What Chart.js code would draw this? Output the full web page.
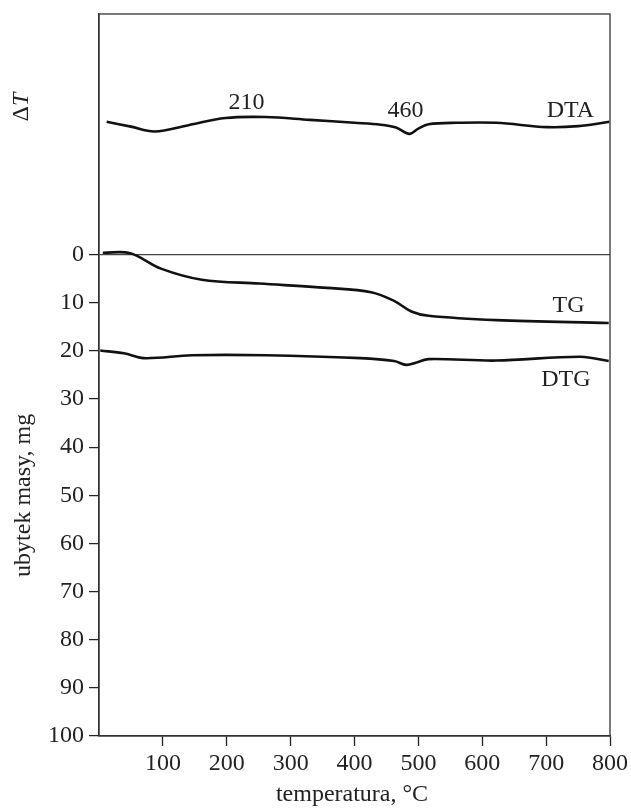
<!DOCTYPE html>
<html>
<head>
<meta charset="utf-8">
<script src="https://cdn.jsdelivr.net/npm/chart.js@4.4.0/dist/chart.umd.min.js"></script>
<style>
  html, body { margin: 0; padding: 0; background: #fff; }
  #wrap { width: 631px; height: 810px; }
</style>
</head>
<body>
<div id="wrap"><canvas id="thermoChart" width="631" height="810"></canvas></div>
<script>
// temperature (°C) and readings
const dtaTemp = [12, 50, 87, 140, 198, 261, 330, 400, 441, 465, 486, 500, 516, 560, 622, 701, 750, 799];
const dtaVal  = [-27.6, -26.6, -25.6, -26.9, -28.4, -28.6, -28.0, -27.4, -27.0, -26.4, -25.1, -26.2, -27.1, -27.4, -27.4, -26.5, -26.7, -27.6];

const tgTemp = [6, 49, 97, 161, 251, 357, 426, 462, 489, 516, 622, 798];
const tgVal  = [-0.4, -0.3, 2.9, 5.2, 6.0, 6.9, 7.8, 9.6, 11.8, 12.7, 13.6, 14.2];

const dtgTemp = [2, 39, 70, 145, 261, 409, 462, 481, 497, 516, 622, 754, 798];
const dtgVal  = [19.9, 20.5, 21.5, 20.9, 20.9, 21.5, 22.1, 22.9, 22.4, 21.7, 22.0, 21.2, 22.1];

const xTicks = [100, 200, 300, 400, 500, 600, 700, 800];
const yTicks = [0, 10, 20, 30, 40, 50, 60, 70, 80, 90, 100];

// curve labels: text, temperature, value
const curveLabels = [
    ['210', 231, -31.6],
    ['460', 480, -30.0],
    ['DTA', 738, -30.0],
    ['TG', 735, 10.6],
    ['DTG', 731, 26.0]
];

const serif = '"Liberation Serif", "DejaVu Serif", serif';
const fontSize = 24;

function toPoints(xs, ys) {
    return xs.map((x, i) => ({ x: x, y: ys[i] }));
}

const lineStyle = {
    borderColor: '#111',
    borderWidth: 2.6,
    pointRadius: 0,
    tension: 0.35,
    fill: false
};

const textPlugin = {
    id: 'textPlugin',
    afterDraw(chart) {
        const ctx = chart.ctx;
        const area = chart.chartArea;
        const xs = chart.scales.x;
        const ys = chart.scales.y;
        ctx.save();

        // frame
        ctx.strokeStyle = '#333';
        ctx.lineWidth = 1.3;
        ctx.strokeRect(area.left, area.top, area.right - area.left, area.bottom - area.top);

        ctx.fillStyle = '#222';
        ctx.font = fontSize + 'px ' + serif;
        ctx.textAlign = 'center';
        ctx.textBaseline = 'middle';
        curveLabels.forEach(l => {
            ctx.fillText(l[0], xs.getPixelForValue(l[1]), ys.getPixelForValue(l[2]));
        });

        // x axis title
        ctx.fillText('temperatura, \u00B0C', 352, 795);

        // y axis title
        ctx.save();
        ctx.translate(24, (ys.getPixelForValue(0) + ys.getPixelForValue(100)) / 2);
        ctx.rotate(-Math.PI / 2);
        ctx.fillText('ubytek masy, mg', 0, 0);
        ctx.restore();

        // delta T
        ctx.save();
        ctx.translate(22, 107);
        ctx.rotate(-Math.PI / 2);
        ctx.textAlign = 'left';
        const dW = ctx.measureText('\u0394').width;
        ctx.font = 'italic ' + fontSize + 'px ' + serif;
        const tW = ctx.measureText('T').width;
        const start = -(dW + tW) / 2;
        ctx.font = fontSize + 'px ' + serif;
        ctx.fillText('\u0394', start, 0);
        ctx.font = 'italic ' + fontSize + 'px ' + serif;
        ctx.fillText('T', start + dW, 0);
        ctx.restore();

        ctx.restore();
    }
};

Chart.defaults.font.family = serif;
Chart.defaults.color = '#222';

new Chart(document.getElementById('thermoChart').getContext('2d'), {
    type: 'line',
    data: {
        datasets: [
            Object.assign({ label: 'DTA', data: toPoints(dtaTemp, dtaVal) }, lineStyle),
            Object.assign({ label: 'TG', data: toPoints(tgTemp, tgVal) }, lineStyle),
            Object.assign({ label: 'DTG', data: toPoints(dtgTemp, dtgVal) }, lineStyle)
        ]
    },
    options: {
        responsive: false,
        animation: false,
        layout: { padding: { top: 14, right: 20, left: 0, bottom: 0 } },
        plugins: {
            legend: { display: false },
            tooltip: { enabled: false }
        },
        scales: {
            x: {
                type: 'linear',
                min: 0,
                max: 800,
                afterBuildTicks: scale => { scale.ticks = xTicks.map(v => ({ value: v })); },
                afterFit: scale => { scale.height = 74; },
                ticks: { font: { size: fontSize }, padding: 3, maxRotation: 0 },
                grid: { drawOnChartArea: false, tickLength: 10, tickColor: '#222', tickWidth: 1.3 },
                border: { color: '#333', width: 1.3 }
            },
            y: {
                type: 'linear',
                min: -50,
                max: 100,
                reverse: true,
                afterBuildTicks: scale => { scale.ticks = yTicks.map(v => ({ value: v })); },
                afterFit: scale => {
                    scale.width = 99;
                    scale.paddingTop = 0;
                    scale.paddingBottom = 0;
                },
                ticks: { font: { size: fontSize }, padding: 5 },
                grid: {
                    drawOnChartArea: true,
                    color: c => (c.tick && c.tick.value === 0) ? '#444' : 'rgba(0,0,0,0)',
                    lineWidth: 1.2,
                    tickLength: 10,
                    tickColor: '#222',
                    tickWidth: 1.3
                },
                border: { color: '#333', width: 1.3 }
            }
        }
    },
    plugins: [textPlugin]
});
</script>
</body>
</html>
